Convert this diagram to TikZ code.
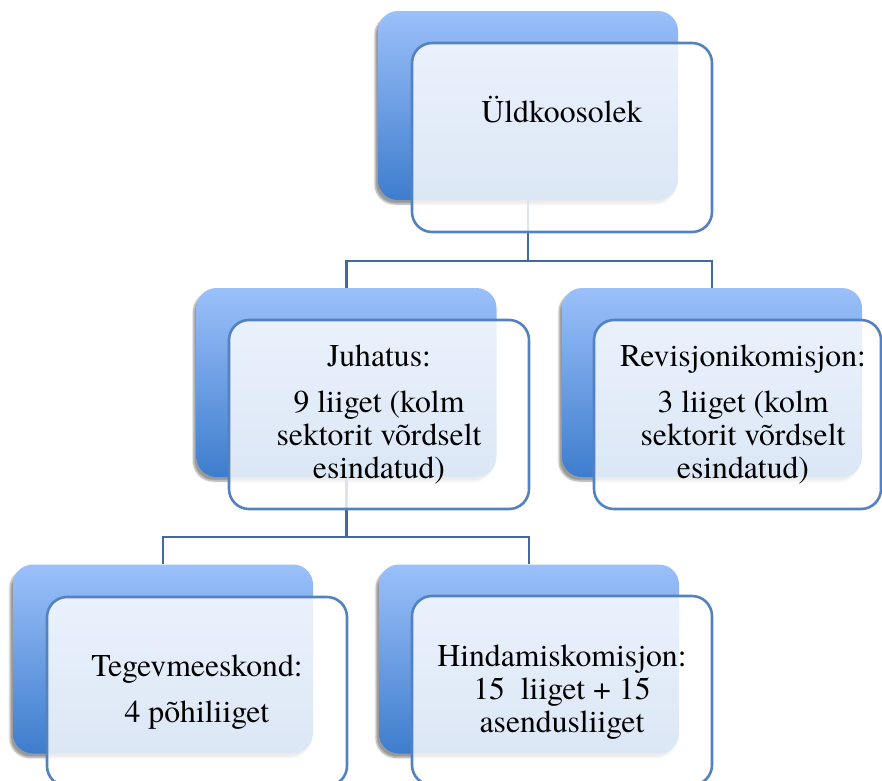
\documentclass[tikz,border=0pt]{standalone}
\usepackage{fontspec}
\IfFontExistsTF{TeX Gyre Termes}
  {\newfontfamily\lblfont{TeX Gyre Termes}}
  {\newfontfamily\lblfont{Latin Modern Roman}}
\usetikzlibrary{shadows.blur}
\definecolor{backtop}{RGB}{155,192,250}
\definecolor{backbot}{RGB}{62,125,205}
\definecolor{frontline}{RGB}{84,130,190}
\definecolor{connline}{RGB}{66,106,160}
\tikzset{
  backbox/.style={rounded corners=20pt, minimum width=300pt, minimum height=189pt,
    inner sep=0pt, top color=backtop, bottom color=backbot, draw=none,
    blur shadow={shadow xshift=-3pt, shadow yshift=-4pt, shadow blur steps=6, shadow opacity=40}},
  frontbox/.style={rounded corners=20pt, minimum width=300pt, minimum height=189pt,
    inner sep=0pt, fill=white, fill opacity=0.82, draw=frontline, draw opacity=1, line width=2.6pt},
  conn/.style={draw=connline, line width=2.8pt},
  lbl/.style={align=center, inner sep=0pt, font=\lblfont\fontsize{31.7}{33}\selectfont, text=black}
}
\begin{document}
\begin{tikzpicture}[x=1pt, y=-1pt]
\useasboundingbox (0,0) rectangle (882,780);
\clip (0,0) rectangle (882,780);
% back boxes
\node[backbox] (b1) at (528,105.5) {};
\node[backbox] (b2) at (346.5,382.5) {};
\node[backbox] (b3) at (712,382.5) {};
\node[backbox] (b4) at (163,659) {};
\node[backbox] (b5) at (529,659) {};
% connectors
\coordinate (j1) at (528,261);
\coordinate (j2) at (346.5,537);
\draw[conn] (b1.south) -- (j1);
\draw[conn] (j1) -| (b2.north);
\draw[conn] (j1) -| (b3.north);
\draw[conn] (b2.south) -- (j2);
\draw[conn] (j2) -| (b4.north);
\draw[conn] (j2) -| (b5.north);
% front boxes
\node[frontbox] (f1) at (562,137.5) {};
\node[frontbox] (f2) at (379,414.5) {};
\node[frontbox, minimum width=287pt] (f3) at (737.5,414.5) {};
\node[frontbox] (f4) at (197,691.5) {};
\node[frontbox] (f5) at (562,690.5) {};
% texts
\node[lbl] (t1) at (562,110) {Üldkoosolek};
\node[lbl] (t2) at (379,414) {Juhatus:\\[13pt] 9 liiget (kolm\\ sektorit võrdselt\\ esindatud)};
\node[lbl] (t3) at (743,414) {Revisjonikomisjon:\\[13pt] 3 liiget (kolm\\ sektorit võrdselt\\ esindatud)};
\node[lbl] (t4) at (197,692.5) {Tegevmeeskond:\\[13pt] 4 põhiliiget};
\node[lbl] (t5) at (562,692) {Hindamiskomisjon:\\ 15~ liiget + 15\\ asendusliiget};
\end{tikzpicture}
\end{document}
